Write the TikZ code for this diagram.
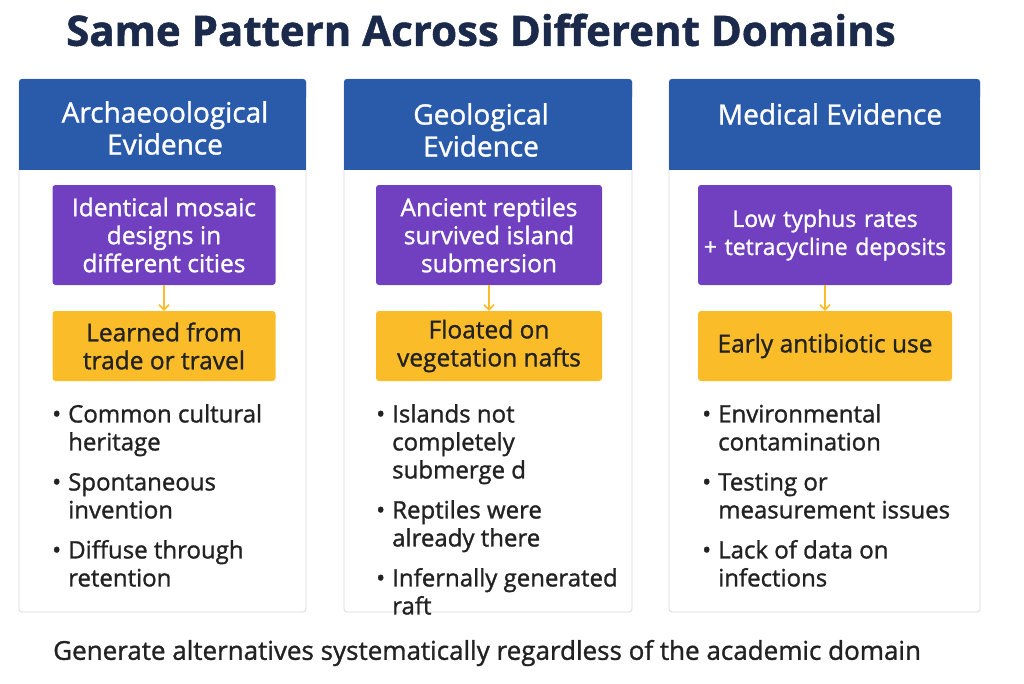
\documentclass[tikz,border=0pt]{standalone}
\usepackage{fontspec}
\setmainfont{Open Sans}[FakeBold=1.2]
\usetikzlibrary{arrows.meta}
\definecolor{navy}{HTML}{1B2A4A}
\definecolor{hblue}{HTML}{2A5BAA}
\definecolor{purp}{HTML}{7040C0}
\definecolor{orng}{HTML}{FBBC2A}
\definecolor{txt}{HTML}{222222}
\tikzset{
 card/.style={draw=gray!30,line width=0.8pt,fill=white,rounded corners=3pt},
 head/.style={fill=hblue,text=white,align=center,font=\fontsize{28}{32}\selectfont},
 pbox/.style={fill=purp,text=white,align=center,rounded corners=3pt,font=\fontsize{24.5}{28}\selectfont},
 obox/.style={fill=orng,text=txt,align=center,rounded corners=3pt,font=\fontsize{24.5}{28}\selectfont},
 blist/.style={anchor=north west,align=left,text=txt,font=\fontsize{24}{28}\selectfont,inner sep=0pt},
 arr/.style={-{Straight Barb[length=5pt,width=10pt]},draw=orng,line width=1.6pt}
}
\begin{document}
\begin{tikzpicture}[x=1pt,y=-1pt]
\useasboundingbox[fill=white] (0,0) rectangle (1024,683);
\node[font=\bfseries\fontsize{42}{46}\selectfont,text=navy,anchor=west,inner sep=0pt] (title) at (66,30) {Same Pattern Across Different Domains};
% columns
\foreach \n/\l/\r in {a/19/306,b/344/632,c/669/980}{
 \draw[card] (\l,79) rectangle (\r,612);
 \fill[hblue,rounded corners=3pt] (\l,79) rectangle (\r,100);
 \fill[hblue] (\l,90) rectangle (\r,170);
}
\node[head] (ha) at (165,128) {Archaeoological\\Evidence};
\node[head] (hb) at (481,130) {Geological\\Evidence};
\node[head] (hc) at (830,114) {Medical Evidence};
\node[pbox,minimum width=223pt,minimum height=100pt] (pa) at (164,235) {Identical mosaic\\designs in\\different cities};
\node[pbox,minimum width=226pt,minimum height=100pt] (pb) at (489,235) {Ancient reptiles\\survived island\\submersion};
\node[pbox,minimum width=254pt,text width=250pt,inner xsep=2pt,minimum height=100pt,font=\fontsize{23}{28}\selectfont] (pc) at (825,235) {Low typhus rates\\+ tetracycline deposits};
\node[obox,minimum width=223pt,minimum height=70pt] (oa) at (164,346) {Learned from\\trade or travel};
\node[obox,minimum width=226pt,minimum height=70pt] (ob) at (489,346) {Floated on\\vegetation nafts};
\node[obox,minimum width=254pt,minimum height=70pt] (oc) at (825,346) {Early antibiotic use};
\draw[arr] (pa) -- (oa);
\draw[arr] (pb) -- (ob);
\draw[arr] (pc) -- (oc);
\node[blist] (la) at (52,404) {•\hspace{7pt}Common cultural\\\hspace{16pt}heritage\\[12pt]•\hspace{7pt}Spontaneous\\\hspace{16pt}invention\\[12pt]•\hspace{7pt}Diffuse through\\\hspace{16pt}retention};
\node[blist] (lb) at (376,404) {•\hspace{7pt}Islands not\\\hspace{16pt}completely\\\hspace{16pt}submerge d\\[12pt]•\hspace{7pt}Reptiles were\\\hspace{16pt}already there\\[12pt]•\hspace{7pt}Infernally generated\\\hspace{16pt}raft};
\node[blist] (lc) at (702,404) {•\hspace{7pt}Environmental\\\hspace{16pt}contamination\\[12pt]•\hspace{7pt}Testing or\\\hspace{16pt}measurement issues\\[12pt]•\hspace{7pt}Lack of data on\\\hspace{16pt}infections};
\node[anchor=west,text=txt,font=\fontsize{26}{29}\selectfont,inner sep=0pt] (foot) at (53,653) {Generate alternatives systematically regardless of the academic domain};
\end{tikzpicture}
\end{document}
